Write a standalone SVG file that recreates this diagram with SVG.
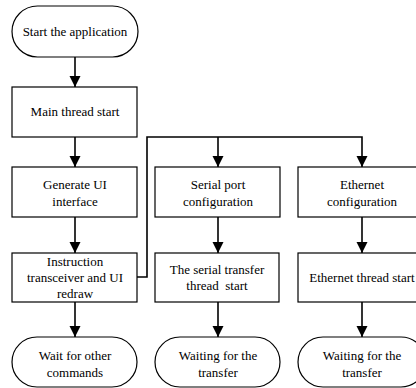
<svg xmlns="http://www.w3.org/2000/svg" width="416" height="388" viewBox="0 0 416 388">
  <style>
    .box { fill: #ffffff; stroke: #000000; stroke-width: 1.2; }
    .lbl { font-family: 'Times New Roman', Times, 'Liberation Serif', 'DejaVu Serif', serif; font-size: 13px; fill: #000000; text-anchor: middle; }
    .wire { fill: none; stroke: #000000; stroke-width: 1.6; }
  </style>
  <defs>
    <marker id="arrow" viewBox="0 0 10 10" refX="10" refY="5" markerWidth="7" markerHeight="7" markerUnits="strokeWidth" orient="auto">
      <path d="M0,0 L10,5 L0,10 Z" fill="#000000"/>
    </marker>
  </defs>
  <rect width="416" height="388" fill="#ffffff"/>

  <!-- connectors -->
  <g id="connectors">
    <path class="wire" d="M75,57 V87" marker-end="url(#arrow)"/>
    <path class="wire" d="M75,137 V167" marker-end="url(#arrow)"/>
    <path class="wire" d="M75,217 V253" marker-end="url(#arrow)"/>
    <path class="wire" d="M75,302 V337" marker-end="url(#arrow)"/>
    <path class="wire" d="M137,277 H147 V137 H362 V167" marker-end="url(#arrow)"/>
    <path class="wire" d="M218,137 V167" marker-end="url(#arrow)"/>
    <path class="wire" d="M218,217 V253" marker-end="url(#arrow)"/>
    <path class="wire" d="M218,302 V337" marker-end="url(#arrow)"/>
    <path class="wire" d="M362,217 V253" marker-end="url(#arrow)"/>
    <path class="wire" d="M362,302 V337" marker-end="url(#arrow)"/>
  </g>

  <!-- main column -->
  <g id="start">
    <rect class="box" x="12" y="6" width="126" height="51" rx="25.5" ry="25.5"/>
    <text class="lbl" x="75" y="36">Start the application</text>
  </g>
  <g id="main-thread">
    <rect class="box" x="12" y="87" width="125" height="50"/>
    <text class="lbl" x="75" y="116">Main thread start</text>
  </g>
  <g id="generate-ui">
    <rect class="box" x="12" y="167" width="125" height="50"/>
    <text class="lbl" x="75" y="189">Generate UI</text>
    <text class="lbl" x="75" y="206">interface</text>
  </g>
  <g id="instruction">
    <rect class="box" x="12" y="253" width="125" height="49"/>
    <text class="lbl" x="75" y="266">Instruction</text>
    <text class="lbl" x="75" y="282">transceiver and UI</text>
    <text class="lbl" x="75" y="298">redraw</text>
  </g>
  <g id="wait-commands">
    <rect class="box" x="12" y="337" width="125" height="50" rx="25" ry="25"/>
    <text class="lbl" x="75" y="360">Wait for other</text>
    <text class="lbl" x="75" y="377">commands</text>
  </g>

  <!-- serial column -->
  <g id="serial-config">
    <rect class="box" x="155" y="167" width="125" height="50"/>
    <text class="lbl" x="218" y="189">Serial port</text>
    <text class="lbl" x="218" y="206">configuration</text>
  </g>
  <g id="serial-thread">
    <rect class="box" x="155" y="253" width="124" height="49"/>
    <text class="lbl" x="217" y="274">The serial transfer</text>
    <text class="lbl" x="217" y="290">thread&#160; start</text>
  </g>
  <g id="serial-wait">
    <rect class="box" x="155" y="337" width="125" height="50" rx="25" ry="25"/>
    <text class="lbl" x="218" y="360">Waiting for the</text>
    <text class="lbl" x="218" y="377">transfer</text>
  </g>

  <!-- ethernet column -->
  <g id="ethernet-config">
    <rect class="box" x="298" y="167" width="128" height="50"/>
    <text class="lbl" x="362" y="189">Ethernet</text>
    <text class="lbl" x="362" y="206">configuration</text>
  </g>
  <g id="ethernet-thread">
    <rect class="box" x="298" y="253" width="128" height="49"/>
    <text class="lbl" x="362" y="282">Ethernet thread start</text>
  </g>
  <g id="ethernet-wait">
    <rect class="box" x="298" y="337" width="128" height="50" rx="25" ry="25"/>
    <text class="lbl" x="362" y="360">Waiting for the</text>
    <text class="lbl" x="362" y="377">transfer</text>
  </g>
</svg>
